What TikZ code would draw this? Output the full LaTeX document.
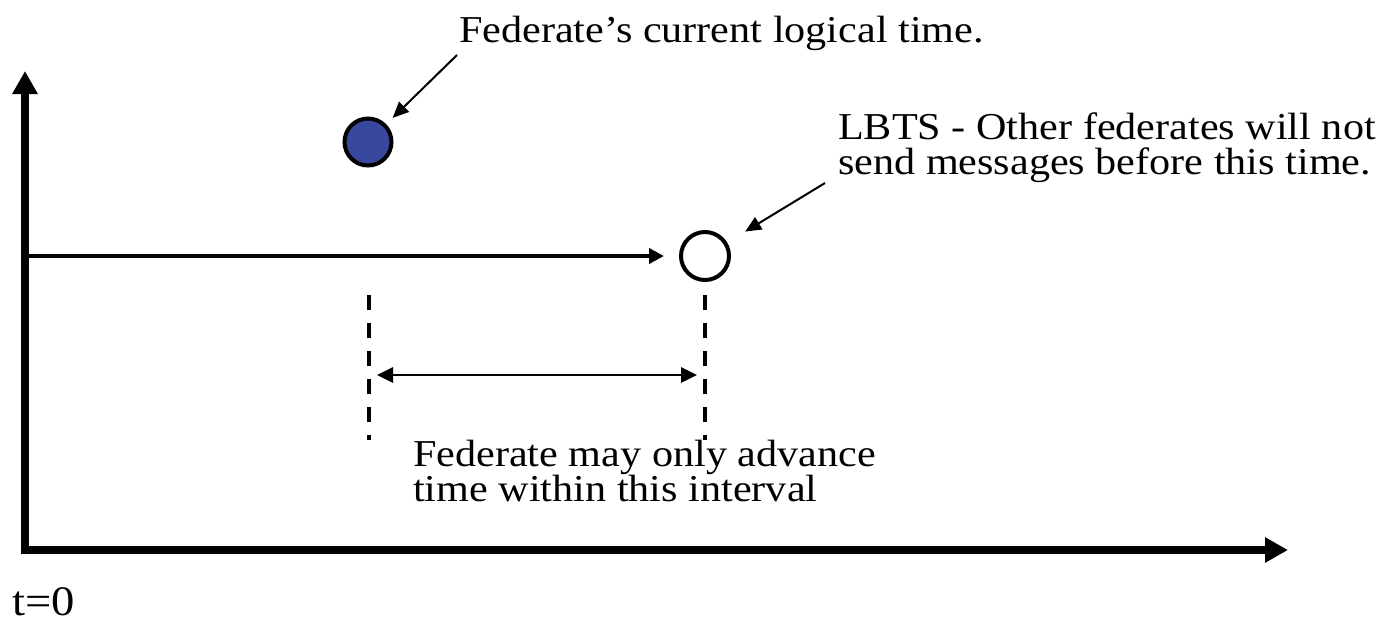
\documentclass[tikz,border=0pt]{standalone}
\usepackage{fontspec}
\setmainfont{Liberation Serif}[FakeStretch=1.11]
\usetikzlibrary{arrows.meta}
\definecolor{dotblue}{RGB}{56,72,156}
\begin{document}
\begin{tikzpicture}[x=1pt,y=-1pt,
  axis/.style={line width=7.5pt, -{Triangle[length=23pt,width=24pt]}},
  timeline/.style={line width=4pt, -{Triangle[length=15pt,width=15pt]}},
  pointer/.style={line width=2pt, -{Triangle[length=16pt,width=14pt]}},
  span/.style={line width=2.7pt, {Triangle[length=16pt,width=15pt]}-{Triangle[length=16pt,width=15pt]}},
  guide/.style={line width=4pt, dash pattern=on 15pt off 13pt},
  label/.style={font=\fontsize{38}{34}\selectfont, inner sep=0pt, align=left},
  tpoint/.style={circle, draw, line width=4pt, inner sep=0pt}
]
\useasboundingbox (0,0) rectangle (1400,627);
\fill[white] (0,0) rectangle (1400,627);

% axes
\coordinate (O) at (25,550);
\coordinate (ytop) at (25,71);
\coordinate (xend) at (1288,550);
\draw[axis] ([yshift=-4pt]O) -- (ytop);
\draw[axis] ([xshift=-4pt]O) -- (xend);

% time points
\node[tpoint, fill=dotblue, minimum size=47pt] (cur) at (368,142) {};
\node[tpoint, fill=white, minimum size=48pt] (lbts) at (705,256) {};

% timeline up to LBTS
\coordinate (tl0) at (25,256);
\draw[timeline, shorten >=15pt] (tl0) -- (lbts);

% labels
\node[label, anchor=base west] (curlbl) at (459,42) {Federate’s current logical time.};
\node[label, anchor=base west] (lbtslbl1) at (838,139) {LBTS - Other federates will not};
\node[label, anchor=base west] (lbtslbl2) at (838,174) {send messages before this time.};
\node[label, anchor=base west] (intlbl1) at (413,466) {Federate may only advance};
\node[label, anchor=base west] (intlbl2) at (413,501) {time within this interval};
\node[label, font=\fontsize{42}{42}\selectfont, anchor=base west] (t0) at (12,615) {t=0};

% pointers from labels
\coordinate (curtail) at (457,55);
\draw[pointer, shorten >=9pt] (curtail) -- (cur);
\coordinate (lbtstail) at (825,183);
\draw[pointer, shorten >=21pt] (lbtstail) -- (lbts);

% interval guides
\coordinate (g1a) at (369,295);
\coordinate (g1b) at (369,440);
\coordinate (g2a) at (705,295);
\coordinate (g2b) at (705,440);
\draw[guide] (g1a) -- (g1b);
\draw[guide] (g2a) -- (g2b);

% allowed advance interval
\coordinate (s1) at (377,375);
\coordinate (s2) at (697,375);
\draw[span] (s1) -- (s2);
\end{tikzpicture}
\end{document}
